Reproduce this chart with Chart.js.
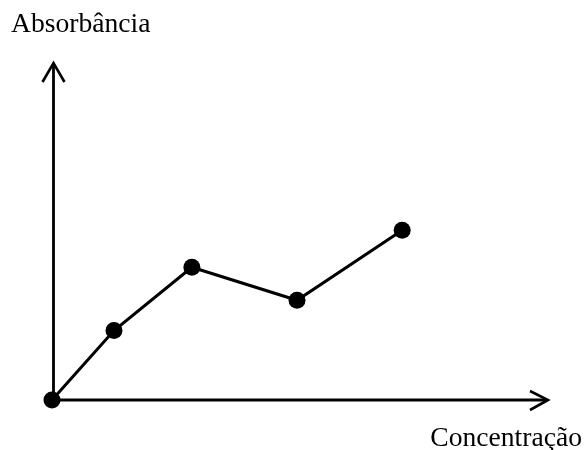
<!DOCTYPE html>
<html>
<head>
<meta charset="utf-8">
<script src="https://cdn.jsdelivr.net/npm/chart.js@4/dist/chart.umd.min.js"></script>
<style>
html,body{margin:0;padding:0;background:#fff;}
#wrap{width:586px;height:450px;position:relative;}
</style>
</head>
<body>
<div id="wrap"><canvas id="c" width="586" height="450"></canvas></div>
<script>
const concentracao = [0, 1.25, 2.82, 4.94, 7.06];
const absorbancia = [0, 2.06, 3.94, 2.96, 5.04];
const xTitle = "Concentração";
const yTitle = "Absorbância";

const points = concentracao.map((x, i) => ({x: x, y: absorbancia[i]}));

const axesPlugin = {
  id: 'axesArrows',
  beforeDatasetsDraw(chart) {
    const ctx = chart.ctx;
    const xs = chart.scales.x, ys = chart.scales.y;
    const x0 = xs.getPixelForValue(0), y0 = ys.getPixelForValue(0);
    const xEnd = xs.getPixelForValue(xs.max), yEnd = ys.getPixelForValue(ys.max);
    const ax = x0 + 1.5;
    ctx.save();
    ctx.strokeStyle = '#000';
    ctx.lineWidth = 2.8;
    ctx.lineCap = 'butt';
    ctx.lineJoin = 'miter';
    ctx.beginPath();
    ctx.moveTo(ax, y0); ctx.lineTo(ax, yEnd + 1);
    ctx.moveTo(x0, y0); ctx.lineTo(xEnd - 1, y0);
    ctx.stroke();
    ctx.lineWidth = 2.6;
    ctx.beginPath();
    ctx.moveTo(ax - 11, yEnd + 19); ctx.lineTo(ax, yEnd); ctx.lineTo(ax + 11, yEnd + 19);
    ctx.moveTo(xEnd - 18, y0 - 9); ctx.lineTo(xEnd, y0); ctx.lineTo(xEnd - 18, y0 + 10);
    ctx.stroke();
    ctx.fillStyle = '#000';
    ctx.font = '27.6px "Liberation Serif", "Times New Roman", serif';
    ctx.textBaseline = 'alphabetic';
    ctx.textAlign = 'left';
    ctx.fillText(yTitle, 11, 32);
    ctx.textAlign = 'right';
    ctx.fillText(xTitle, 582, 446);
    ctx.restore();
  }
};

new Chart(document.getElementById('c'), {
  type: 'scatter',
  data: {
    datasets: [{
      data: points,
      showLine: true,
      borderColor: '#000',
      backgroundColor: '#000',
      borderWidth: 3,
      pointRadius: 8.5,
      pointHoverRadius: 8.5,
      pointBackgroundColor: '#000',
      pointBorderWidth: 0,
      clip: false,
      tension: 0
    }]
  },
  options: {
    responsive: false,
    animation: false,
    events: [],
    layout: {padding: {left: 52, right: 38, top: 63, bottom: 50}},
    plugins: {legend: {display: false}, tooltip: {enabled: false}, title: {display: false}},
    scales: {
      x: {type: 'linear', min: 0, max: 10, display: false},
      y: {type: 'linear', min: 0, max: 10, display: false}
    }
  },
  plugins: [axesPlugin]
});
</script>
</body>
</html>
